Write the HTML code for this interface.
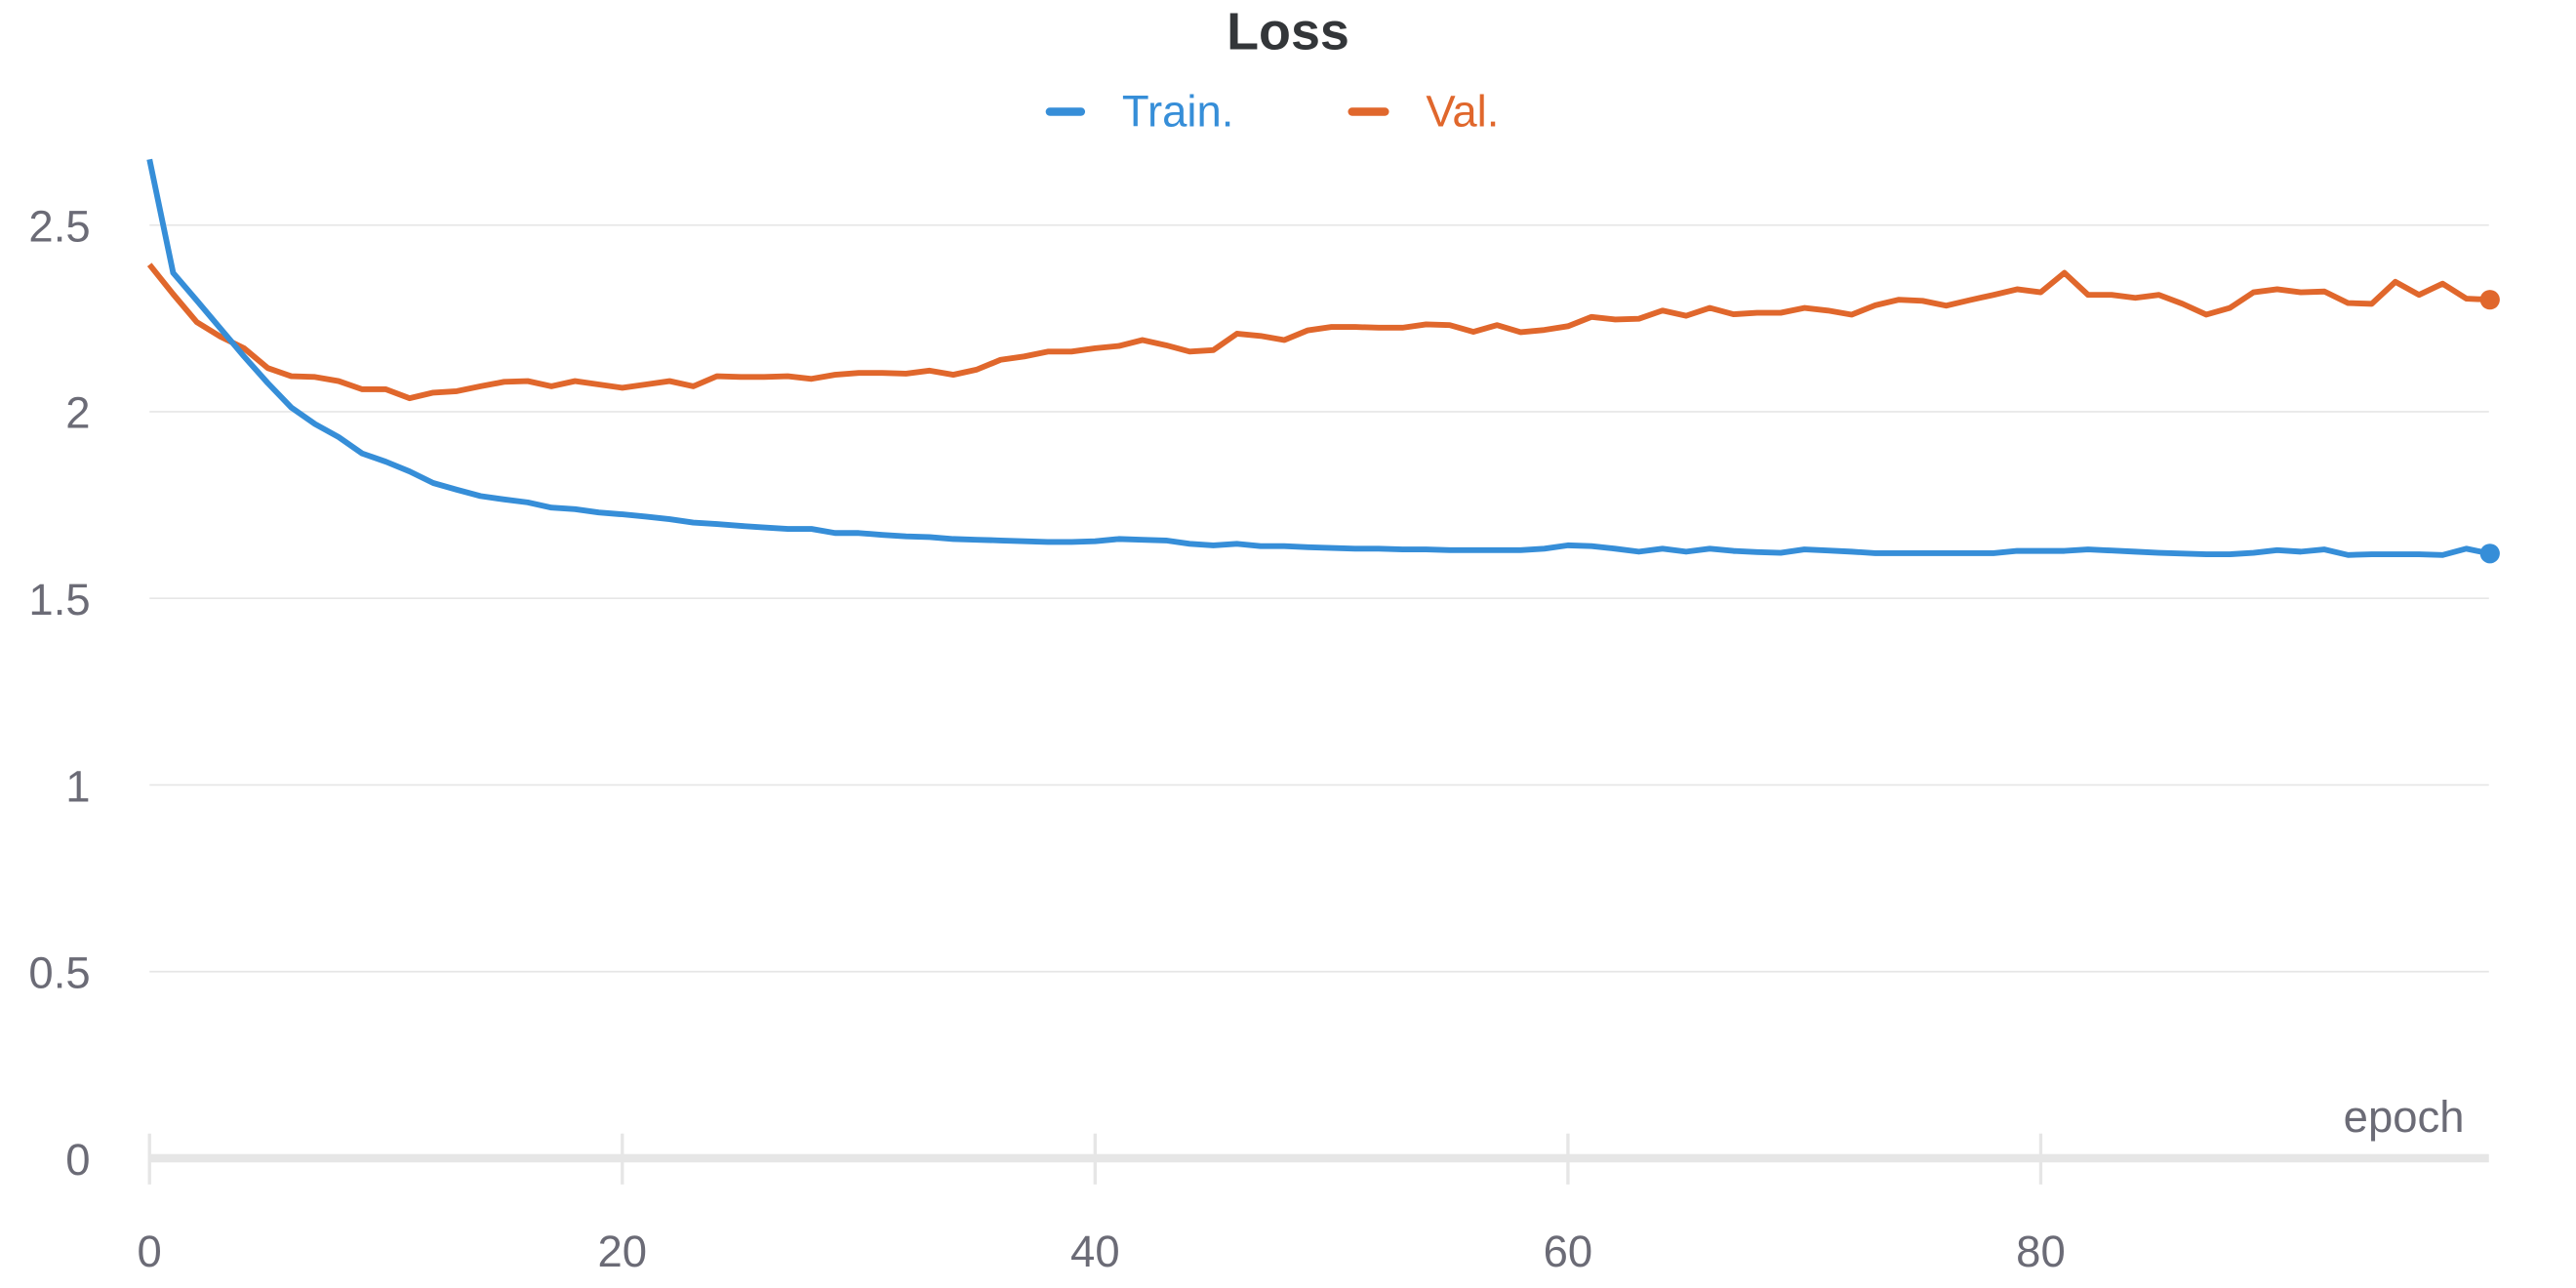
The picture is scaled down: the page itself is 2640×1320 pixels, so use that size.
<!DOCTYPE html>
<html><head><meta charset="utf-8"><style>
html,body{margin:0;padding:0;background:#fff;}
svg{display:block;}
text{font-family:"Liberation Sans",sans-serif;}
</style></head><body>
<svg id="chart" width="2640" height="1320" viewBox="0 0 1568 784" xmlns="http://www.w3.org/2000/svg">
<text x="784" y="30" text-anchor="middle" font-size="32" font-weight="bold" fill="#333639">Loss</text>
<g>
<line x1="639" y1="68" x2="658" y2="68" stroke="#368ed8" stroke-width="5" stroke-linecap="round"/>
<text x="683" y="77" font-size="27" fill="#368ed8">Train.</text>
</g>
<g>
<line x1="823" y1="68" x2="843" y2="68" stroke="#e0672c" stroke-width="5" stroke-linecap="round"/>
<text x="868" y="77" font-size="27" fill="#e0672c">Val.</text>
</g>
<g id="grid"></g>
<g id="series"></g>
<text x="1500" y="689" text-anchor="end" font-size="27" fill="#6b6b76">epoch</text>
</svg>
<script>
const yTicks = [0, 0.5, 1, 1.5, 2, 2.5];
const yTickLabels = ["0", "0.5", "1", "1.5", "2", "2.5"];
const xTicks = [0, 20, 40, 60, 80];
const xTickLabels = ["0", "20", "40", "60", "80"];
const trainLoss = [2.676,2.372,2.298,2.223,2.148,2.077,2.011,1.967,1.932,1.888,1.866,1.840,1.809,1.791,1.774,1.765,1.757,1.743,1.739,1.730,1.725,1.719,1.712,1.703,1.699,1.694,1.690,1.686,1.686,1.675,1.675,1.670,1.666,1.664,1.659,1.657,1.655,1.653,1.651,1.651,1.653,1.659,1.657,1.655,1.646,1.642,1.646,1.640,1.640,1.637,1.635,1.633,1.633,1.631,1.631,1.629,1.629,1.629,1.629,1.633,1.642,1.640,1.633,1.625,1.633,1.625,1.633,1.627,1.624,1.622,1.631,1.628,1.625,1.621,1.621,1.621,1.621,1.621,1.621,1.627,1.627,1.627,1.631,1.628,1.625,1.622,1.620,1.618,1.618,1.622,1.629,1.625,1.631,1.616,1.618,1.618,1.618,1.616,1.633,1.620];
const valLoss = [2.394,2.315,2.240,2.201,2.170,2.117,2.095,2.093,2.082,2.060,2.060,2.036,2.051,2.055,2.068,2.080,2.082,2.068,2.082,2.073,2.064,2.073,2.082,2.068,2.095,2.093,2.093,2.095,2.088,2.099,2.104,2.104,2.102,2.110,2.099,2.113,2.139,2.148,2.161,2.161,2.170,2.176,2.192,2.178,2.161,2.165,2.209,2.203,2.192,2.218,2.227,2.227,2.225,2.225,2.234,2.232,2.214,2.232,2.213,2.219,2.229,2.254,2.247,2.249,2.271,2.257,2.278,2.261,2.265,2.265,2.278,2.271,2.260,2.285,2.300,2.297,2.284,2.299,2.313,2.328,2.320,2.372,2.313,2.313,2.305,2.313,2.289,2.260,2.278,2.320,2.328,2.320,2.322,2.291,2.289,2.348,2.313,2.343,2.303,2.300];

const NS = "http://www.w3.org/2000/svg";
const X0 = 91, XPER = 14.39, Y0 = 705, YPER = 227.2, XEND = 1515;
function xs(e){ return X0 + e * XPER; }
function ys(v){ return Y0 - v * YPER; }
function mk(tag, attrs, parent){ const el = document.createElementNS(NS, tag); for (const k in attrs) el.setAttribute(k, attrs[k]); parent.appendChild(el); return el; }

const grid = document.getElementById('grid');
yTicks.forEach((t, i) => {
  if (t !== 0) {
    const gl = mk('line', {x1: X0, x2: XEND, y1: ys(t), y2: ys(t), stroke: '#e6e6e6', 'stroke-width': 1}, grid);
    
    
  }
  const lb = mk('text', {x: 55, y: ys(t) + 10, 'text-anchor': 'end', 'font-size': 27, fill: '#6b6b76'}, grid);
  lb.textContent = yTickLabels[i];
  
  
});
xTicks.forEach((t, i) => {
  const tk = mk('line', {x1: xs(t), x2: xs(t), y1: 690, y2: 721, stroke: '#e6e6e6', 'stroke-width': 2}, grid);
  
  
  const lb = mk('text', {x: xs(t), y: 771, 'text-anchor': 'middle', 'font-size': 27, fill: '#6b6b76'}, grid);
  lb.textContent = xTickLabels[i];
  
  
});
const ax = mk('line', {x1: X0, x2: XEND, y1: Y0, y2: Y0, stroke: '#e6e6e6', 'stroke-width': 5}, grid);



const series = document.getElementById('series');
function drawLine(vals, color, name){
  const d = vals.map((v, i) => (i ? 'L' : 'M') + xs(i).toFixed(2) + ',' + ys(v).toFixed(2)).join(' ');
  const p = mk('path', {d: d, fill: 'none', stroke: color, 'stroke-width': 3.5, 'stroke-linejoin': 'round'}, series);
  
  
  const n = vals.length - 1;
  const c = mk('circle', {cx: xs(n), cy: ys(vals[n]), r: 6, fill: color}, series);
  
  
}
drawLine(valLoss, '#e0672c', 'val');
drawLine(trainLoss, '#368ed8', 'train');
</script>
</body></html>
